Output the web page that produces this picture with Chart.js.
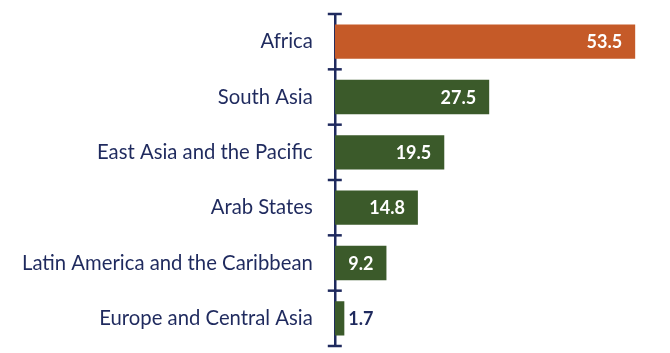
<!DOCTYPE html>
<html>
<head>
<meta charset="utf-8">
<script src="https://cdn.jsdelivr.net/npm/chart.js@4"></script>
<style>
  html, body { margin: 0; padding: 0; background: #fff; }
  #wrap { width: 670px; height: 353px; }
</style>
</head>
<body>
<div id="wrap"><canvas id="regionChart"></canvas></div>
<script>
const regions = ['Africa', 'South Asia', 'East Asia and the Pacific', 'Arab States', 'Latin America and the Caribbean', 'Europe and Central Asia'];
const values = [53.5, 27.5, 19.5, 14.8, 9.2, 1.7];
const barColors = ['#C55A28', '#3B5A2A', '#3B5A2A', '#3B5A2A', '#3B5A2A', '#3B5A2A'];

const navy = '#1F2A5E';
const fontFamily = 'Lato, "Open Sans", sans-serif';

// ticks that cross the axis line, plus value labels
const axisTicks = {
    id: 'axisTicks',
    afterDatasetsDraw(chart) {
        const ctx = chart.ctx;
        const y = chart.scales.y;
        const x0 = y.right;
        ctx.save();
        ctx.strokeStyle = navy;
        ctx.lineWidth = 2.5;
        for (let i = 0; i <= regions.length; i++) {
            const py = y.getPixelForValue(i - 0.5);
            ctx.beginPath();
            ctx.moveTo(x0 - 7, py);
            ctx.lineTo(x0 + 7, py);
            ctx.stroke();
        }
        const meta = chart.getDatasetMeta(0);
        ctx.font = 'bold 18px ' + fontFamily;
        ctx.textBaseline = 'middle';
        meta.data.forEach(function(bar, i) {
            const txt = values[i].toFixed(1);
            if (values[i] < 5) {
                ctx.fillStyle = navy;
                ctx.textAlign = 'left';
                ctx.fillText(txt, bar.x + 4, bar.y + 1);
            } else {
                ctx.fillStyle = '#ffffff';
                ctx.textAlign = 'right';
                ctx.fillText(txt, bar.x - 13, bar.y + 1);
            }
        });
        ctx.restore();
    }
};

new Chart(document.getElementById('regionChart'), {
    type: 'bar',
    data: {
        labels: regions,
        datasets: [{
            data: values,
            backgroundColor: barColors,
            borderWidth: 0,
            categoryPercentage: 1.0,
            barPercentage: 0.62
        }]
    },
    options: {
        indexAxis: 'y',
        responsive: true,
        maintainAspectRatio: false,
        animation: false,
        layout: { padding: { top: 14, bottom: 7, left: 8, right: 0 } },
        scales: {
            x: {
                display: false,
                min: 0,
                max: 59.7
            },
            y: {
                grid: { display: false },
                border: { display: true, color: navy, width: 2.5 },
                ticks: {
                    color: navy,
                    padding: 14,
                    font: { family: fontFamily, size: 20.3 }
                },
                afterFit: function(scale) {
                    scale.paddingTop = 0;
                    scale.paddingBottom = 0;
                }
            }
        },
        plugins: {
            legend: { display: false },
            tooltip: { enabled: false }
        }
    },
    plugins: [axisTicks]
});
</script>
</body>
</html>
